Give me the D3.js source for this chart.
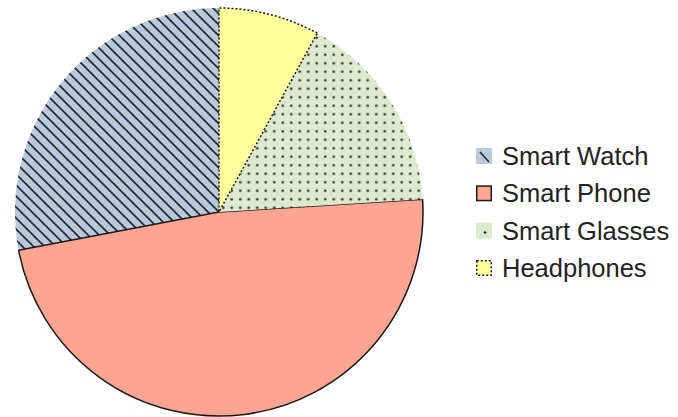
<!DOCTYPE html>
<html>
<head>
<meta charset="utf-8">
<script src="https://cdn.jsdelivr.net/npm/d3@7/dist/d3.min.js"></script>
<style>
  html, body { margin: 0; padding: 0; background: #ffffff; }
  svg { display: block; font-family: "Liberation Sans", Arial, sans-serif; }
</style>
</head>
<body>
<svg id="chart" width="678" height="417"></svg>
<script>
// Device share by category (percent)
const categories = ["Smart Watch", "Smart Phone", "Smart Glasses", "Headphones"];
const values = [28, 48, 16, 8];

const fills = ["#b9c9dd", "#ffa591", "#dee8cc", "#ffff9e"];

const svg = d3.select("#chart");
const cx = 219, cy = 212, radius = 204;

// Fill patterns: diagonal hatch and dot grid
const defs = svg.append("defs");

const hs = 11;
const hatch = defs.append("pattern")
  .attr("id", "hatch")
  .attr("patternUnits", "userSpaceOnUse")
  .attr("width", hs).attr("height", hs);
hatch.append("rect").attr("width", hs).attr("height", hs).attr("fill", fills[0]);
hatch.append("path")
  .attr("d", `M-2,-2 L${hs + 2},${hs + 2} M${-hs - 2},-2 L2,${hs + 2} M${hs - 2},-2 L${2 * hs + 2},${hs + 2}`)
  .attr("stroke", "#262626").attr("stroke-width", 1.6);

const ds = 8.5;
const dots = defs.append("pattern")
  .attr("id", "dots")
  .attr("patternUnits", "userSpaceOnUse")
  .attr("width", ds).attr("height", ds);
dots.append("rect").attr("width", ds).attr("height", ds).attr("fill", fills[2]);
dots.append("circle").attr("cx", ds / 2).attr("cy", ds / 2).attr("r", 1.25).attr("fill", "#222");

const sliceStyle = [
  { fill: "url(#hatch)", stroke: "none", dash: null },
  { fill: fills[1], stroke: "#1a1a1a", dash: null },
  { fill: "url(#dots)", stroke: "none", dash: null },
  { fill: fills[3], stroke: "#1a1a1a", dash: "2,2" }
];

// Slices run counter-clockwise from twelve o'clock
const pie = d3.pie().sort(null).startAngle(0).endAngle(-2 * Math.PI);
const arc = d3.arc().innerRadius(0).outerRadius(radius);

const arcs = pie(values);

const g = svg.append("g").attr("transform", `translate(${cx},${cy})`);
g.selectAll("path.slice")
  .data(arcs)
  .join("path")
  .attr("class", "slice")
  .attr("d", arc)
  .attr("fill", (d, i) => sliceStyle[i].fill)
  .attr("stroke", (d, i) => sliceStyle[i].stroke)
  .attr("stroke-width", 1.5)
  .attr("stroke-dasharray", (d, i) => sliceStyle[i].dash)
  .attr("stroke-linejoin", "round");

// Legend
const legendX = 476, legendY0 = 156, rowGap = 37.3, sw = 16;
const legend = svg.append("g");
const rows = legend.selectAll("g.row")
  .data(categories)
  .join("g")
  .attr("class", "row")
  .attr("transform", (d, i) => `translate(${legendX},${legendY0 + i * rowGap})`);

rows.each(function(d, i) {
  const r = d3.select(this);
  if (i === 0) {
    r.append("rect").attr("x", 0).attr("y", -sw / 2).attr("width", sw).attr("height", sw)
      .attr("fill", fills[0]);
    r.append("line").attr("x1", 4).attr("y1", -4).attr("x2", 13).attr("y2", 6)
      .attr("stroke", "#262626").attr("stroke-width", 1.6);
  } else if (i === 1) {
    r.append("rect").attr("x", 0.75).attr("y", -sw / 2 + 0.75).attr("width", sw - 1.5).attr("height", sw - 1.5)
      .attr("fill", fills[1]).attr("stroke", "#1a1a1a").attr("stroke-width", 1.5);
  } else if (i === 2) {
    r.append("rect").attr("x", 0).attr("y", -sw / 2).attr("width", sw).attr("height", sw)
      .attr("fill", fills[2]);
    r.append("circle").attr("cx", 9).attr("cy", 2).attr("r", 1.25).attr("fill", "#222");
  } else {
    r.append("rect").attr("x", 0.75).attr("y", -sw / 2 + 0.75).attr("width", sw - 1.5).attr("height", sw - 1.5)
      .attr("fill", fills[3]).attr("stroke", "#1a1a1a").attr("stroke-width", 1.5)
      .attr("stroke-dasharray", "2,2");
  }
  r.append("text")
    .attr("x", 26).attr("y", 0)
    .attr("dy", "0.36em")
    .attr("font-size", 25.5)
    .attr("fill", "#222")
    .text(d);
});
</script>
</body>
</html>
